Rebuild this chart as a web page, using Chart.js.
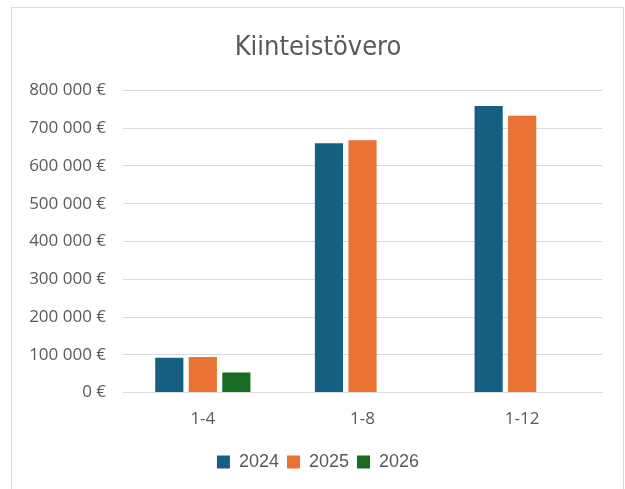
<!DOCTYPE html>
<html>
<head>
<meta charset="utf-8">
<script src="https://cdn.jsdelivr.net/npm/chart.js@4/dist/chart.umd.min.js"></script>
<style>
    body { margin: 0; background: #fff; overflow: hidden; }
    #frame {
        position: absolute;
        left: 11px; top: 7px;
        width: 611px; height: 490px;
        border: 1px solid #d9d9d9;
    }
    #chart { display: block; }
</style>
</head>
<body>
<div id="frame"><canvas id="chart" width="611" height="481"></canvas></div>
<script>
const periods = ['1-4', '1-8', '1-12'];
const tax2024 = [92000, 660000, 759000];
const tax2025 = [94000, 668000, 733000];
const tax2026 = [53000, null, null];
const yTicks = [0, 100000, 200000, 300000, 400000, 500000, 600000, 700000, 800000];

const textColor = '#595959';

// "800 000 €" style
function euro(v) {
    return String(v).replace(/\B(?=(\d{3})+(?!\d))/g, ' ') + ' €';
}

new Chart(document.getElementById('chart'), {
    type: 'bar',
    data: {
        labels: periods,
        datasets: [
            { label: '2024', data: tax2024, backgroundColor: '#156082' },
            { label: '2025', data: tax2025, backgroundColor: '#E97132' },
            { label: '2026', data: tax2026, backgroundColor: '#196B24' }
        ]
    },
    options: {
        responsive: false,
        animation: false,
        layout: { padding: { left: 11, right: 10, top: 0, bottom: 8 } },
        datasets: {
            bar: { categoryPercentage: 0.63, barPercentage: 0.84 }
        },
        plugins: {
            title: {
                display: true,
                text: 'Kiinteistövero',
                color: textColor,
                font: { family: '"Liberation Sans Narrow", "DejaVu Sans Condensed", sans-serif', size: 27, weight: 'normal' },
                padding: { top: 24, bottom: 26 }
            },
            legend: {
                position: 'bottom',
                labels: {
                    color: textColor,
                    boxWidth: 13,
                    boxHeight: 13,
                    padding: 8,
                    font: { family: '"Liberation Sans", Arial, sans-serif', size: 18 }
                }
            },
            tooltip: { enabled: false }
        },
        scales: {
            x: {
                grid: { display: false, drawTicks: false },
                border: { color: '#d9d9d9' },
                ticks: {
                    color: textColor,
                    padding: 16,
                    font: { family: '"Open Sans", sans-serif', size: 17 }
                }
            },
            y: {
                min: 0,
                max: 800000,
                afterBuildTicks: axis => { axis.ticks = yTicks.map(v => ({ value: v })); },
                afterFit: axis => { axis.width = 100; },
                grid: { color: '#d9d9d9', drawTicks: false },
                border: { display: false },
                ticks: {
                    color: textColor,
                    padding: 17,
                    font: { family: '"Open Sans", sans-serif', size: 17 },
                    callback: v => euro(v)
                }
            },
            // empty right margin so gridlines stop short of the frame
            yRight: {
                position: 'right',
                min: 0,
                max: 800000,
                afterFit: axis => { axis.width = 11; },
                grid: { display: false, drawTicks: false },
                border: { display: false },
                ticks: { display: false }
            }
        }
    }
});
</script>
</body>
</html>
